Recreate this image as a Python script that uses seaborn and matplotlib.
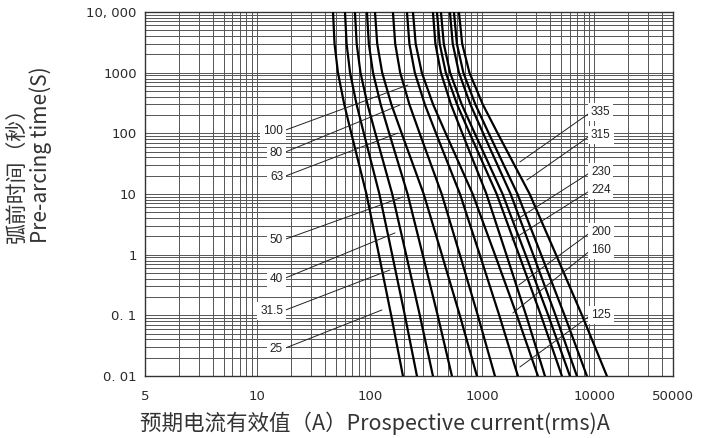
import numpy as np
import pandas as pd
import matplotlib
matplotlib.use("Agg")
import matplotlib.pyplot as plt
from matplotlib.ticker import LogLocator, NullFormatter, FixedLocator
import seaborn as sns

# ---------------- data ----------------
ratings = ["25", "31.5", "40", "50", "63", "80", "100",
           "125", "160", "200", "224", "230", "315", "335"]
times = [10000, 3000, 1000, 300, 100, 10, 1, 0.1, 0.01]

cur_25 = [47.1, 48.6, 52.1, 59.3, 68.5, 93.4, 120.6, 155.1, 197.4]
cur_31_5 = [60.2, 62.2, 66.8, 76.3, 88.6, 121.8, 158.3, 205.3, 263.0]
cur_40 = [73.8, 76.5, 82.7, 95.5, 112.2, 158.5, 210.7, 279.0, 365.0]
cur_50 = [94.4, 98.1, 106.9, 125.0, 149.0, 217.1, 296.0, 402.1, 538.6]
cur_63 = [111.3, 116.5, 129.0, 155.7, 192.3, 302.0, 438.2, 633.0, 899.0]
cur_80 = [160.8, 168.4, 186.6, 225.2, 278.1, 436.7, 633.6, 915.1, 1300.0]
cur_100 = [214.3, 225.3, 251.8, 309.0, 388.8, 635.3, 952.4, 1421.0, 2082.0]
cur_125 = [242.3, 256.3, 290.5, 365.9, 474.0, 824.1, 1300.0, 2039.0, 3136.0]
cur_160 = [365.0, 383.9, 429.5, 528.1, 666.1, 1093.0, 1644.0, 2462.0, 3621.0]
cur_200 = [396.2, 419.2, 475.2, 598.4, 775.1, 1347.0, 2125.0, 3337.0, 5129.0]
cur_224 = [430.1, 455.8, 518.8, 658.0, 859.5, 1521.0, 2434.0, 3876.0, 6043.0]
cur_230 = [517.0, 547.5, 621.9, 786.0, 1022.0, 1793.0, 2849.0, 4504.0, 6972.0]
cur_315 = [561.3, 596.0, 680.9, 870.3, 1146.0, 2064.0, 3352.0, 5415.0, 8560.0]
cur_335 = [621.7, 664.6, 771.2, 1013.0, 1376.0, 2649.0, 4544.0, 7748.0, 12890.0]

curves = [cur_25, cur_31_5, cur_40, cur_50, cur_63, cur_80, cur_100,
          cur_125, cur_160, cur_200, cur_224, cur_230, cur_315, cur_335]

# leader targets (current A, time s) for each rating label
left_labels = ["100", "80", "63", "50", "40", "31.5", "25"]
left_target_current = [218.7, 185.6, 178.2, 197.4, 167.6, 151.2, 128.4]
left_target_time = [626.0, 293.0, 101.0, 8.93, 2.28, 0.559, 0.1225]

right_labels = ["335", "315", "230", "224", "200", "160", "125"]
right_target_current = [2169.0, 2503.0, 1879.0, 1841.0, 2125.0, 1879.0, 2169.0]
right_target_time = [33.7, 17.0, 3.456, 1.746, 0.3164, 0.1093, 0.01408]

x_tick_values = [1, 10, 100, 1000, 10000, 50000]
x_tick_labels = ["5", "10", "100", "1000", "10000", "50000"]
y_tick_values = [0.01, 0.1, 1, 10, 100, 1000, 10000]
y_tick_labels = ["0. 01", "0. 1", "1", "10", "100", "1000", "10, 000"]

# ---------------- layout ----------------
left_label_y = [0.6731, 0.6126, 0.5467, 0.3736, 0.2665, 0.1786, 0.0742]
right_label_y = [0.7253, 0.6621, 0.5604, 0.5110, 0.3956, 0.3462, 0.1676]

rows = []
for r, cur in zip(ratings, curves):
    for t, c in zip(times, cur):
        rows.append({"rating": r, "current": c, "time": t})
df = pd.DataFrame(rows)

sns.set_style("white")
plt.rcParams["font.family"] = ["DejaVu Sans"]

fig, ax = plt.subplots(figsize=(7.04, 4.38), dpi=100)
fig.subplots_adjust(left=0.206, right=0.956, top=0.9726, bottom=0.1416)
ax.set_xscale("log")
ax.set_yscale("log")

sns.lineplot(data=df, x="current", y="time", units="rating", estimator=None,
             sort=False, color="black", lw=1.6, ax=ax, legend=False, zorder=3)

ax.set_xlim(1, 50000)
ax.set_ylim(0.01, 10000)

ax.xaxis.set_major_locator(FixedLocator(x_tick_values))
ax.set_xticklabels(x_tick_labels)
ax.yaxis.set_major_locator(FixedLocator(y_tick_values))
ax.set_yticklabels(y_tick_labels)
ax.xaxis.set_minor_locator(LogLocator(base=10, subs=np.arange(2, 10), numticks=30))
ax.yaxis.set_minor_locator(LogLocator(base=10, subs=np.arange(2, 10), numticks=30))
ax.xaxis.set_minor_formatter(NullFormatter())
ax.yaxis.set_minor_formatter(NullFormatter())
ax.tick_params(which="both", length=0, labelsize=9.5, colors="#2a2a2a")
ax.tick_params(axis="x", pad=10)
ax.tick_params(axis="y", pad=6)
ax.grid(which="both", color="#555555", lw=0.7)
ax.set_axisbelow(True)
for s in ax.spines.values():
    s.set_color("#333333")
    s.set_linewidth(1.0)
ax.set_xlabel("")
ax.set_ylabel("")

lab_font = dict(family="Liberation Sans", size=8.5, color="#222222")
for lab, cx, ty, fy in zip(left_labels, left_target_current, left_target_time, left_label_y):
    ax.annotate(lab, xy=(cx, ty), xytext=(0.2614, fy), textcoords="axes fraction",
                ha="right", va="center", zorder=5, **lab_font,
                bbox=dict(fc="white", ec="none", pad=2.0),
                arrowprops=dict(arrowstyle="-", color="#222222", lw=0.7,
                                shrinkA=0, shrinkB=0, relpos=(1.0, 0.5)))
for lab, cx, ty, fy in zip(right_labels, right_target_current, right_target_time, right_label_y):
    ax.annotate(lab, xy=(cx, ty), xytext=(0.8447, fy), textcoords="axes fraction",
                ha="left", va="center", zorder=5, **lab_font,
                bbox=dict(fc="white", ec="none", pad=2.0),
                arrowprops=dict(arrowstyle="-", color="#222222", lw=0.7,
                                shrinkA=0, shrinkB=0, relpos=(0.0, 0.5)))

cjk = ["Noto Sans CJK SC", "DejaVu Sans"]
fig.text(0.041, 0.4452, "弧前时间（秒）\nPre-arcing time(S)", rotation=90,
         ha="center", va="bottom", multialignment="left", linespacing=1.05,
         family=cjk, size=15, color="#333333")
fig.text(0.1989, 0.0342, "预期电流有效值（A）Prospective current(rms)A", ha="left", va="center",
         family=cjk, size=15.5, color="#333333")

fig.savefig("out.png", dpi=100)
